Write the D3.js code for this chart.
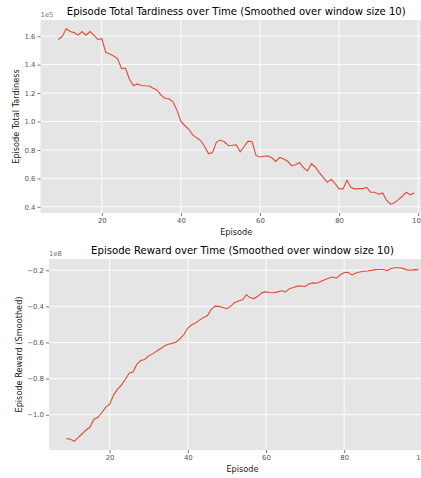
<!DOCTYPE html>
<html>
<head>
<meta charset="utf-8">
<script src="https://cdn.jsdelivr.net/npm/d3@7"></script>
<style>
  body { margin: 0; background: #fff; }
  svg { display: block; font-family: "DejaVu Sans", sans-serif; }
</style>
</head>
<body>
<div id="chart"></div>
<script>
// episodes 9..99 (rolling window 10)
const episodes = d3.range(9, 100);

// total tardiness, units of 1e5
const tardiness = [
  1.577, 1.598, 1.652, 1.633, 1.625, 1.607, 1.633, 1.607, 1.633, 1.607,
  1.577, 1.582, 1.486, 1.474, 1.460, 1.440, 1.372, 1.376, 1.295, 1.253,
  1.264, 1.253, 1.251, 1.250, 1.234, 1.220, 1.185, 1.162, 1.160, 1.138,
  1.080, 1.000, 0.970, 0.945, 0.906, 0.885, 0.866, 0.824, 0.773, 0.782,
  0.855, 0.869, 0.857, 0.831, 0.833, 0.836, 0.787, 0.824, 0.862, 0.857,
  0.761, 0.750, 0.755, 0.757, 0.745, 0.719, 0.747, 0.736, 0.720, 0.689,
  0.696, 0.712, 0.675, 0.652, 0.703, 0.680, 0.640, 0.607, 0.572, 0.593,
  0.563, 0.526, 0.526, 0.586, 0.535, 0.526, 0.528, 0.528, 0.536, 0.502,
  0.502, 0.488, 0.497, 0.446, 0.418, 0.428, 0.450, 0.474, 0.502, 0.484,
  0.497
];

// smoothed reward, units of 1e8
const reward = [
  -1.132, -1.136, -1.147, -1.125, -1.105, -1.084, -1.068, -1.025, -1.014, -0.989,
  -0.958, -0.943, -0.891, -0.860, -0.836, -0.805, -0.770, -0.763, -0.720, -0.700,
  -0.694, -0.674, -0.663, -0.648, -0.635, -0.620, -0.610, -0.605, -0.597, -0.580,
  -0.556, -0.520, -0.502, -0.492, -0.476, -0.462, -0.452, -0.417, -0.399, -0.400,
  -0.406, -0.413, -0.399, -0.378, -0.370, -0.364, -0.336, -0.353, -0.357, -0.343,
  -0.324, -0.320, -0.323, -0.325, -0.320, -0.314, -0.320, -0.302, -0.296, -0.288,
  -0.287, -0.290, -0.276, -0.270, -0.272, -0.263, -0.253, -0.244, -0.238, -0.244,
  -0.226, -0.213, -0.211, -0.226, -0.215, -0.210, -0.206, -0.204, -0.201, -0.197,
  -0.196, -0.196, -0.203, -0.190, -0.186, -0.186, -0.190, -0.198, -0.200, -0.197,
  -0.198
];

const xTicks = [20, 40, 60, 80, 100];
const tardTicks = [0.4, 0.6, 0.8, 1.0, 1.2, 1.4, 1.6];
const rewardTicks = [-1.0, -0.8, -0.6, -0.4, -0.2];

const width = 421, height = 478;
const svg = d3.select("#chart").append("svg")
    .attr("width", width)
    .attr("height", height);

function pad(ext) {
  const m = (ext[1] - ext[0]) * 0.05;
  return [ext[0] - m, ext[1] + m];
}

function panel(opt) {
  const x = d3.scaleLinear().domain(pad(d3.extent(episodes))).range([opt.left, opt.right]);
  const y = d3.scaleLinear().domain(pad(d3.extent(opt.values))).range([opt.bottom, opt.top]);
  const g = svg.append("g");

  g.append("rect")
    .attr("x", opt.left).attr("y", opt.top)
    .attr("width", opt.right - opt.left).attr("height", opt.bottom - opt.top)
    .attr("fill", "#e5e5e5");

  // grid
  g.selectAll(".gx").data(xTicks).enter().append("line")
    .attr("x1", d => x(d)).attr("x2", d => x(d))
    .attr("y1", opt.top).attr("y2", opt.bottom)
    .attr("stroke", "#fff").attr("stroke-width", 0.9);
  g.selectAll(".gy").data(opt.ticks).enter().append("line")
    .attr("x1", opt.left).attr("x2", opt.right)
    .attr("y1", d => y(d)).attr("y2", d => y(d))
    .attr("stroke", "#fff").attr("stroke-width", 0.9);

  const xAxis = g.append("g")
    .attr("transform", `translate(0,${opt.bottom})`)
    .call(d3.axisBottom(x).tickValues(xTicks).tickSize(3).tickPadding(2).tickFormat(d3.format("d")));
  const yAxis = g.append("g")
    .attr("transform", `translate(${opt.left},0)`)
    .call(d3.axisLeft(y).tickValues(opt.ticks).tickSize(3).tickPadding(2)
      .tickFormat(d => d < 0 ? "\u2212" + d3.format(".1f")(-d) : d3.format(".1f")(d)));
  [xAxis, yAxis].forEach(a => {
    a.select(".domain").remove();
    a.selectAll("line").attr("stroke", "#555").attr("stroke-width", 0.8);
    a.selectAll("text").attr("fill", "#555").style("font-size", "6.9px")
      .style("font-family", "DejaVu Sans, sans-serif");
  });

  g.append("path")
    .datum(opt.values)
    .attr("fill", "none")
    .attr("stroke", "#E24A33")
    .attr("stroke-width", 1.1)
    .attr("d", d3.line().x((d, i) => x(episodes[i])).y(d => y(d)));

  g.append("text")
    .attr("x", (opt.left + opt.right) / 2).attr("y", opt.top - 5)
    .attr("text-anchor", "middle")
    .style("font-size", "10.1px")
    .text(opt.title);

  g.append("text")
    .attr("x", opt.left).attr("y", opt.top - 3)
    .style("font-size", "6.9px").attr("fill", "#777")
    .text(opt.offset);

  g.append("text")
    .attr("x", (opt.left + opt.right) / 2).attr("y", opt.bottom + 22)
    .attr("text-anchor", "middle")
    .style("font-size", "8.2px").attr("fill", "#222")
    .text("Episode");

  g.append("text")
    .attr("transform", `translate(${opt.ylabelX},${(opt.top + opt.bottom) / 2}) rotate(-90)`)
    .attr("text-anchor", "middle")
    .style("font-size", "8.2px").attr("fill", "#222")
    .text(opt.ylabel);
}

panel({
  values: tardiness, ticks: tardTicks,
  left: 40.5, right: 432, top: 20, bottom: 213,
  title: "Episode Total Tardiness over Time (Smoothed over window size 10)",
  offset: "1e5", ylabel: "Episode Total Tardiness", ylabelX: 19
});

panel({
  values: reward, ticks: rewardTicks,
  left: 49, right: 436, top: 259, bottom: 450,
  title: "Episode Reward over Time (Smoothed over window size 10)",
  offset: "1e8", ylabel: "Episode Reward (Smoothed)", ylabelX: 22
});
</script>
</body>
</html>
